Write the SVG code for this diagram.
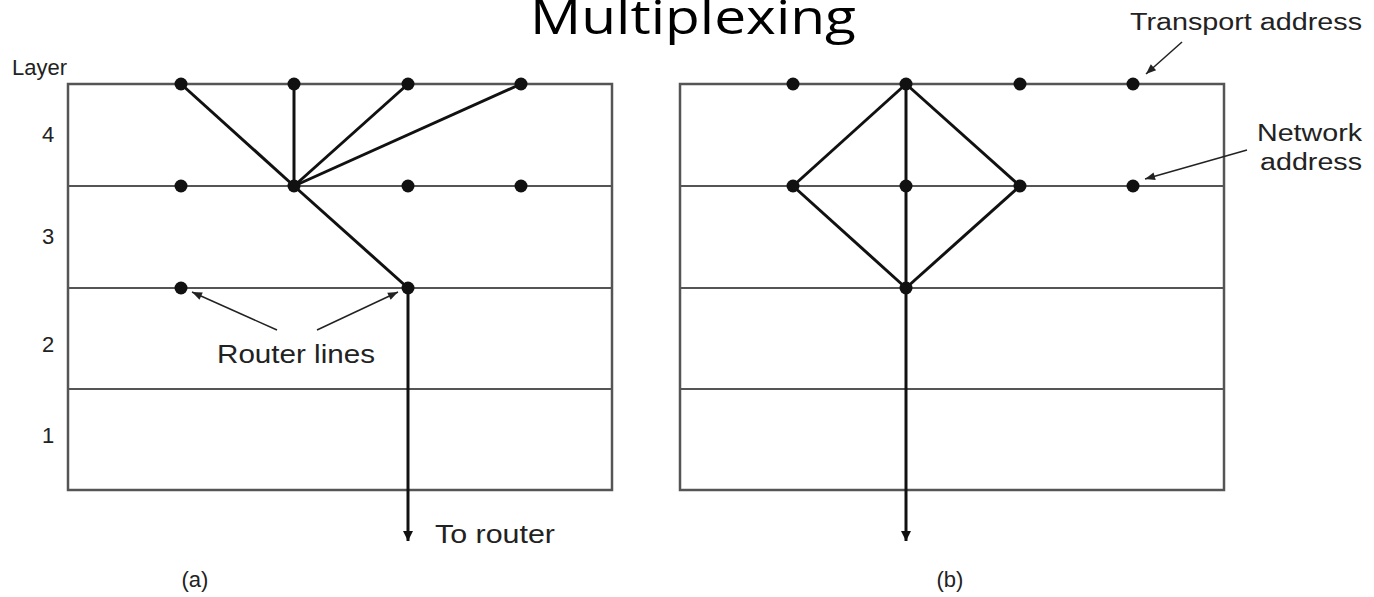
<svg xmlns="http://www.w3.org/2000/svg" width="1374" height="597" viewBox="0 0 1374 597">
  <defs>
    <style>
      .frame { fill: none; stroke: #555; stroke-width: 2.5; }
      .rule { stroke: #555; stroke-width: 2; }
      .link { stroke: #111; stroke-width: 3; fill: none; }
      .pointer { stroke: #222; stroke-width: 1.5; fill: none; }
      .dot { fill: #111; }
      .lbl { font-family: "Liberation Sans", Arial, sans-serif; fill: #222; }
      .title { font-family: "Open Sans", "Liberation Sans", sans-serif; fill: #000; }
    </style>
    <marker id="head" viewBox="0 0 10 10" refX="10" refY="5" markerWidth="10" markerHeight="10" markerUnits="userSpaceOnUse" orient="auto">
      <path d="M0,0 L10,5 L0,10 z" fill="#111"/>
    </marker>
    <marker id="thinHead" viewBox="0 0 10 10" refX="10" refY="5" markerWidth="14" markerHeight="10" markerUnits="userSpaceOnUse" orient="auto">
      <path d="M0,1 L10,5 L0,9 z" fill="#222"/>
    </marker>
  </defs>

  <!-- heading -->
  <text class="title" x="693" y="34" font-size="47" text-anchor="middle" textLength="326" lengthAdjust="spacingAndGlyphs">Multiplexing</text>

  <!-- layer scale -->
  <g id="layer-labels" class="lbl" font-size="22">
    <text x="12" y="75">Layer</text>
    <text x="42" y="142">4</text>
    <text x="42" y="244">3</text>
    <text x="42" y="352">2</text>
    <text x="42" y="443">1</text>
  </g>

  <!-- panel (a) frame -->
  <g id="panel-a">
    <rect class="frame" x="68" y="84" width="544" height="406"/>
    <line class="rule" x1="68" y1="186" x2="612" y2="186"/>
    <line class="rule" x1="68" y1="288" x2="612" y2="288"/>
    <line class="rule" x1="68" y1="389" x2="612" y2="389"/>
    <text class="lbl" x="195" y="587" font-size="22" text-anchor="middle">(a)</text>
  </g>

  <!-- panel (b) frame -->
  <g id="panel-b">
    <rect class="frame" x="680" y="84" width="544" height="406"/>
    <line class="rule" x1="680" y1="186" x2="1224" y2="186"/>
    <line class="rule" x1="680" y1="288" x2="1224" y2="288"/>
    <line class="rule" x1="680" y1="389" x2="1224" y2="389"/>
    <text class="lbl" x="950" y="587" font-size="22" text-anchor="middle">(b)</text>
  </g>

  <!-- connectors -->
  <g id="connectors">
    <!-- (a): upward multiplexing onto one network address -->
    <line class="link" x1="181" y1="84" x2="294" y2="186"/>
    <line class="link" x1="294" y1="84" x2="294" y2="186"/>
    <line class="link" x1="408" y1="84" x2="294" y2="186"/>
    <line class="link" x1="521" y1="84" x2="294" y2="186"/>
    <line class="link" x1="294" y1="186" x2="408" y2="288"/>
    <line class="link" x1="408" y1="288" x2="408" y2="541" marker-end="url(#head)"/>
    <!-- (b): downward multiplexing over several network addresses -->
    <line class="link" x1="906" y1="84" x2="793" y2="186"/>
    <line class="link" x1="906" y1="84" x2="1020" y2="186"/>
    <line class="link" x1="906" y1="84" x2="906" y2="288"/>
    <line class="link" x1="793" y1="186" x2="906" y2="288"/>
    <line class="link" x1="1020" y1="186" x2="906" y2="288"/>
    <line class="link" x1="906" y1="288" x2="906" y2="541" marker-end="url(#head)"/>
    <!-- callout pointers -->
    <line class="pointer" x1="277" y1="330" x2="192" y2="292" marker-end="url(#thinHead)"/>
    <line class="pointer" x1="317" y1="330" x2="398" y2="292" marker-end="url(#thinHead)"/>
    <line class="pointer" x1="1182" y1="42" x2="1146" y2="74" marker-end="url(#thinHead)"/>
    <line class="pointer" x1="1247" y1="150" x2="1145" y2="179" marker-end="url(#thinHead)"/>
  </g>

  <!-- address points, panel (a) -->
  <g id="dots-a" class="dot">
    <circle cx="181" cy="84" r="6.5"/>
    <circle cx="294" cy="84" r="6.5"/>
    <circle cx="408" cy="84" r="6.5"/>
    <circle cx="521" cy="84" r="6.5"/>
    <circle cx="181" cy="186" r="6.5"/>
    <circle cx="294" cy="186" r="6.5"/>
    <circle cx="408" cy="186" r="6.5"/>
    <circle cx="521" cy="186" r="6.5"/>
    <circle cx="181" cy="288" r="6.5"/>
    <circle cx="408" cy="288" r="6.5"/>
  </g>

  <!-- address points, panel (b) -->
  <g id="dots-b" class="dot">
    <circle cx="793" cy="84" r="6.5"/>
    <circle cx="906" cy="84" r="6.5"/>
    <circle cx="1020" cy="84" r="6.5"/>
    <circle cx="1133" cy="84" r="6.5"/>
    <circle cx="793" cy="186" r="6.5"/>
    <circle cx="906" cy="186" r="6.5"/>
    <circle cx="1020" cy="186" r="6.5"/>
    <circle cx="1133" cy="186" r="6.5"/>
    <circle cx="906" cy="288" r="6.5"/>
  </g>

  <!-- callout labels -->
  <g id="label-router-lines"><text class="lbl" x="217" y="363" font-size="25" textLength="158" lengthAdjust="spacingAndGlyphs">Router lines</text></g>
  <g id="label-to-router"><text class="lbl" x="435" y="543" font-size="25" textLength="120" lengthAdjust="spacingAndGlyphs">To router</text></g>
  <g id="label-transport"><text class="lbl" x="1130" y="30" font-size="23" textLength="232" lengthAdjust="spacingAndGlyphs">Transport address</text></g>
  <g id="label-network">
    <text class="lbl" x="1257" y="141" font-size="23" textLength="105" lengthAdjust="spacingAndGlyphs">Network</text>
    <text class="lbl" x="1260" y="170" font-size="23" textLength="102" lengthAdjust="spacingAndGlyphs">address</text>
  </g>
</svg>
